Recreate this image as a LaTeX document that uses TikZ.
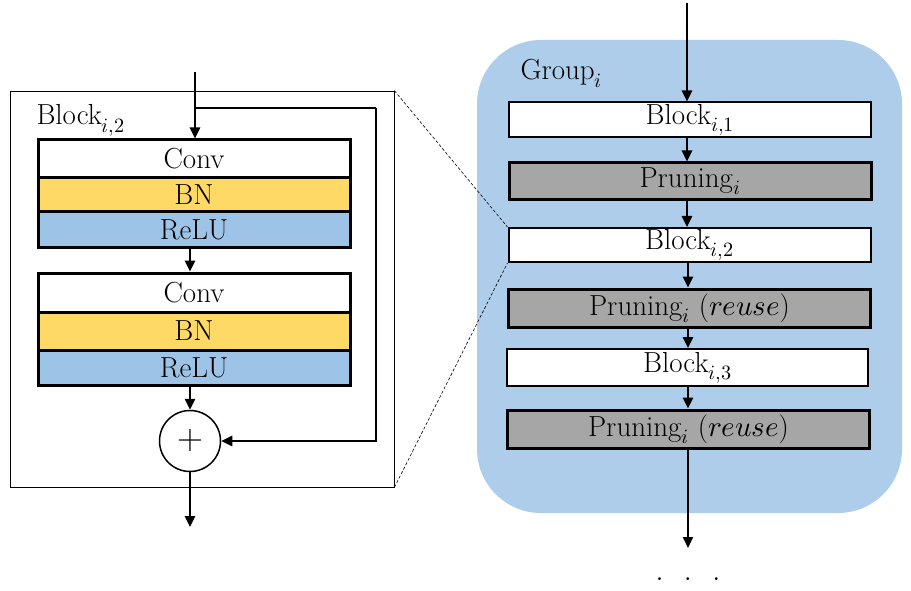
\documentclass[tikz,border=0pt]{standalone}
\usepackage{unicode-math}
\usetikzlibrary{arrows.meta}
\definecolor{bnyellow}{HTML}{FFD966}
\definecolor{relublue}{HTML}{9DC3E6}
\definecolor{grpblue}{HTML}{AECDEA}
\definecolor{prngray}{HTML}{A6A6A6}
\begin{document}
\begin{tikzpicture}[x=1pt,y=-1pt,
  every node/.style={font=\fontsize{29}{34}\selectfont},
  layer/.style={draw,line width=3pt,minimum width=312pt,inner sep=0pt},
  blockbox/.style={draw,fill=white,line width=2pt,minimum width=362pt,minimum height=35pt,inner sep=0pt},
  prunebox/.style={draw,fill=prngray,line width=3pt,minimum width=362pt,minimum height=37pt,inner sep=0pt},
  arr/.style={line width=2.5pt,-{Triangle[length=11pt,width=10pt]}}]
 \useasboundingbox (0,0) rectangle (911,591);
 % left: inside of one block
 \node[draw,line width=0.8pt,minimum width=384pt,minimum height=396pt] (outer) at (202,289) {};
 \node[anchor=base west] (blklbl) at (33,125) {Block$_{i,2}$};
 \node[layer,minimum height=38pt] (conva) at (194,159) {Conv};
 \node[layer,fill=bnyellow,minimum height=34pt] (bna) at (194,195) {BN};
 \node[layer,fill=relublue,minimum height=35pt] (relua) at (194,229.5) {ReLU};
 \node[layer,minimum height=39pt] (convb) at (194,292.5) {Conv};
 \node[layer,fill=bnyellow,minimum height=38pt] (bnb) at (194,331) {BN};
 \node[layer,fill=relublue,minimum height=35pt] (relub) at (194,367.5) {ReLU};
 \node[draw,circle,line width=1.5pt,minimum size=61pt,inner sep=0pt,font=\fontsize{36}{40}\selectfont] (add) at (190,441) {+};
 \coordinate (in) at (195,72);
 \coordinate (split) at (195,108);
 \coordinate (turn) at (376,108);
 \coordinate (out) at (190,527);
 \draw[arr] (in) -- (in |- conva.north);
 \draw[line width=2.5pt] (split) -- (turn);
 \draw[arr] (turn) |- (add.east);
 \draw[arr] (relua.south -| add) -- (convb.north -| add);
 \draw[arr] (relub.south -| add) -- (add.north);
 \draw[arr] (add.south) -- (out);
 % right: the group
 \fill[grpblue,rounded corners=64pt] (477,40) rectangle (902,513);
 \node[anchor=base west] (grplbl) at (517,80) {Group$_i$};
 \node[blockbox] (blka) at (690,120) {Block$_{i,1}$};
 \node[prunebox] (prna) at (690,181.5) {Pruning$_i$};
 \node[blockbox,minimum height=34pt] (blkb) at (689.5,245) {Block$_{i,2}$};
 \node[prunebox,minimum height=38pt] (prnb) at (689.5,308) {Pruning$_i$ ($reuse$)};
 \node[blockbox,minimum width=361pt,minimum height=37pt] (blkc) at (687.5,367.5) {Block$_{i,3}$};
 \node[prunebox,minimum height=38pt] (prnc) at (688.5,429) {Pruning$_i$ ($reuse$)};
 \coordinate (gin) at (687,3);
 \coordinate (gout) at (688,548);
 \draw[arr] (gin) -- (gin |- blka.north);
 \draw[arr] (blka.south -| gin) -- (prna.north -| gin);
 \draw[arr] (prna.south -| gin) -- (blkb.north -| gin);
 \draw[arr] (blkb.south -| gout) -- (prnb.north -| gout);
 \draw[arr] (prnb.south -| gout) -- (blkc.north -| gout);
 \draw[arr] (blkc.south -| gout) -- (prnc.north -| gout);
 \draw[arr,line width=2pt] (prnc.south -| gout) -- (gout);
 \node[anchor=base,font=\fontsize{34}{36}\selectfont] (dots) at (688,580) {.\hspace{20pt}.\hspace{20pt}.};
 % zoom lines
 \draw[dash pattern=on 3pt off 2pt,line width=0.6pt] (outer.north east) -- (blkb.north west);
 \draw[dash pattern=on 3pt off 2pt,line width=0.6pt] (outer.south east) -- (blkb.south west);
\end{tikzpicture}
\end{document}
